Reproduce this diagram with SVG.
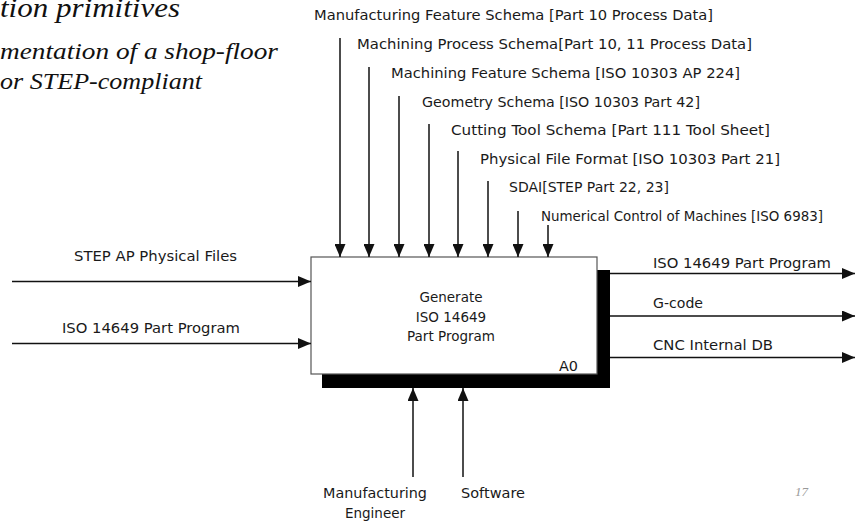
<svg xmlns="http://www.w3.org/2000/svg" width="860" height="522" viewBox="0 0 860 522">
<style>
.lbl{font-family:"DejaVu Sans","Verdana",sans-serif;font-size:13.5px;fill:#1a1a1a}
.ttl{font-family:"Liberation Serif","Times New Roman",serif;font-style:italic;fill:#111}
.ln{stroke:#111;stroke-width:1.5;fill:none}
</style>
<defs>
<marker id="ah" viewBox="0 0 13 11" refX="13" refY="5.5" markerWidth="13" markerHeight="11" markerUnits="userSpaceOnUse" orient="auto">
<path d="M0,0 L13,5.5 L0,11 Z" fill="#111"/>
</marker>
</defs>
<rect width="860" height="522" fill="#fff"/>
<g id="title">
<text class="ttl" x="0" y="17" font-size="27" textLength="180" lengthAdjust="spacingAndGlyphs">tion primitives</text>
<text class="ttl" x="0" y="59" font-size="23" textLength="278" lengthAdjust="spacingAndGlyphs">mentation of a shop-floor</text>
<text class="ttl" x="0" y="89" font-size="23" textLength="202" lengthAdjust="spacingAndGlyphs">or STEP-compliant</text>
</g>
<g id="page-number">
<text x="795" y="496" font-family="Liberation Serif,serif" font-style="italic" font-size="13" fill="#999">17</text>
</g>
<g id="A0">
<rect x="322" y="270" width="288" height="118" fill="#000"/>
<rect x="311" y="257" width="286" height="117" fill="#fff" stroke="#555" stroke-width="1.2"/>
<text class="lbl" x="451" y="302" text-anchor="middle">Generate</text>
<text class="lbl" x="451" y="322" text-anchor="middle">ISO 14649</text>
<text class="lbl" x="451" y="341" text-anchor="middle">Part Program</text>
<text class="lbl" x="559" y="371" textLength="19" lengthAdjust="spacingAndGlyphs">A0</text>
</g>
<g id="controls">
<text class="lbl" x="314" y="20" textLength="399" lengthAdjust="spacingAndGlyphs">Manufacturing Feature Schema [Part 10 Process Data]</text>
<text class="lbl" x="357" y="49" textLength="395" lengthAdjust="spacingAndGlyphs">Machining Process Schema[Part 10, 11 Process Data]</text>
<text class="lbl" x="391" y="78" textLength="349" lengthAdjust="spacingAndGlyphs">Machining Feature Schema [ISO 10303 AP 224]</text>
<text class="lbl" x="422" y="107" textLength="278" lengthAdjust="spacingAndGlyphs">Geometry Schema [ISO 10303 Part 42]</text>
<text class="lbl" x="451" y="135" textLength="319" lengthAdjust="spacingAndGlyphs">Cutting Tool Schema [Part 111 Tool Sheet]</text>
<text class="lbl" x="480" y="164" textLength="300" lengthAdjust="spacingAndGlyphs">Physical File Format [ISO 10303 Part 21]</text>
<text class="lbl" x="509" y="192" textLength="160" lengthAdjust="spacingAndGlyphs">SDAI[STEP Part 22, 23]</text>
<text class="lbl" x="541" y="221" textLength="282" lengthAdjust="spacingAndGlyphs">Numerical Control of Machines [ISO 6983]</text>
</g>
<g id="inputs">
<text class="lbl" x="74" y="261" textLength="163" lengthAdjust="spacingAndGlyphs">STEP AP Physical Files</text>
<text class="lbl" x="62" y="333" textLength="178" lengthAdjust="spacingAndGlyphs">ISO 14649 Part Program</text>
</g>
<g id="outputs">
<text class="lbl" x="653" y="268" textLength="178" lengthAdjust="spacingAndGlyphs">ISO 14649 Part Program</text>
<text class="lbl" x="653" y="308" textLength="50" lengthAdjust="spacingAndGlyphs">G-code</text>
<text class="lbl" x="653" y="350" textLength="120" lengthAdjust="spacingAndGlyphs">CNC Internal DB</text>
</g>
<g id="mechanisms">
<text class="lbl" x="375" y="498" text-anchor="middle" textLength="104" lengthAdjust="spacingAndGlyphs">Manufacturing</text>
<text class="lbl" x="375" y="518" text-anchor="middle">Engineer</text>
<text class="lbl" x="461" y="498" textLength="64" lengthAdjust="spacingAndGlyphs">Software</text>
</g>
<g id="connectors">
<line class="ln" x1="340" y1="38" x2="340" y2="257" marker-end="url(#ah)"/>
<line class="ln" x1="369" y1="67" x2="369" y2="257" marker-end="url(#ah)"/>
<line class="ln" x1="399" y1="96" x2="399" y2="257" marker-end="url(#ah)"/>
<line class="ln" x1="429" y1="124" x2="429" y2="257" marker-end="url(#ah)"/>
<line class="ln" x1="458" y1="151" x2="458" y2="257" marker-end="url(#ah)"/>
<line class="ln" x1="488" y1="181" x2="488" y2="257" marker-end="url(#ah)"/>
<line class="ln" x1="518" y1="211" x2="518" y2="257" marker-end="url(#ah)"/>
<line class="ln" x1="548" y1="225" x2="548" y2="257" marker-end="url(#ah)"/>
<line class="ln" x1="12" y1="281.5" x2="311" y2="281.5" marker-end="url(#ah)"/>
<line class="ln" x1="12" y1="343.5" x2="311" y2="343.5" marker-end="url(#ah)"/>
<line class="ln" x1="610" y1="273.5" x2="855" y2="273.5" marker-end="url(#ah)"/>
<line class="ln" x1="610" y1="316" x2="855" y2="316" marker-end="url(#ah)"/>
<line class="ln" x1="610" y1="357.5" x2="855" y2="357.5" marker-end="url(#ah)"/>
<line class="ln" x1="413" y1="477" x2="413" y2="388" marker-end="url(#ah)"/>
<line class="ln" x1="463" y1="477" x2="463" y2="388" marker-end="url(#ah)"/>
</g>
</svg>
